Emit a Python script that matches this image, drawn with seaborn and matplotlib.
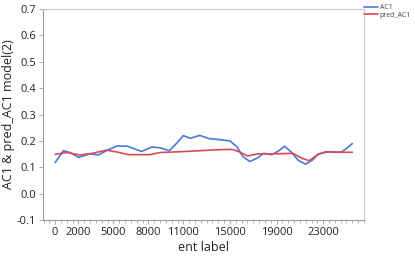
import numpy as np
import pandas as pd
import matplotlib
matplotlib.use("Agg")
import matplotlib.pyplot as plt
from matplotlib.ticker import MultipleLocator
import seaborn as sns

# values
ent_ac1 = [0, 700, 1300, 2000, 3000, 3700, 4400, 5300, 6200, 7400, 8300, 9000,
           9800, 10400, 11000, 11600, 12400, 13200, 14100, 15000, 15600, 16100,
           16700, 17300, 17900, 18600, 19200, 19700, 20300, 20900, 21500, 22100,
           22600, 23500, 24500, 25000, 25500]
ac1 = [0.118, 0.163, 0.156, 0.138, 0.151, 0.147, 0.163, 0.181, 0.180, 0.160,
       0.177, 0.174, 0.163, 0.190, 0.220, 0.210, 0.221, 0.209, 0.205, 0.200,
       0.178, 0.141, 0.122, 0.134, 0.153, 0.148, 0.163, 0.180, 0.156, 0.125,
       0.112, 0.128, 0.151, 0.159, 0.157, 0.171, 0.190]

ent_pred = [0, 1000, 2100, 3200, 4400, 5300, 6300, 8100, 9000, 10700, 12400,
            14100, 15200, 15800, 16500, 17400, 18700, 20400, 21200, 21800,
            22500, 23200, 24000, 25500]
pred_ac1 = [0.149, 0.156, 0.147, 0.153, 0.165, 0.158, 0.148, 0.148, 0.156,
            0.159, 0.163, 0.167, 0.168, 0.159, 0.143, 0.151, 0.151, 0.153,
            0.134, 0.125, 0.147, 0.159, 0.157, 0.157]

x_ticks = [0, 2000, 5000, 8000, 11000, 15000, 19000, 23000]
y_ticks = [-0.1, 0.0, 0.1, 0.2, 0.3, 0.4, 0.5, 0.6, 0.7]

blue = '#4a79dc'
red = '#dc4a52'

sns.set_style("ticks")
plt.rcParams['font.family'] = ['Open Sans', 'DejaVu Sans']

df1 = pd.DataFrame({'ent': ent_ac1, 'val': ac1})
df2 = pd.DataFrame({'ent': ent_pred, 'val': pred_ac1})

fig = plt.figure(figsize=(4.15, 2.58), dpi=100)
ax = fig.add_axes([0.104, 0.147, 0.773, 0.818])

sns.lineplot(data=df1, x='ent', y='val', color=blue, lw=1.2, label='AC1', ax=ax)
sns.lineplot(data=df2, x='ent', y='val', color=red, lw=1.2, label='pred_AC1', ax=ax)

ax.set_xticks(x_ticks)
ax.set_xticklabels([str(t) for t in x_ticks])
ax.xaxis.set_minor_locator(MultipleLocator(500))
ax.set_yticks(y_ticks)
ax.set_yticklabels(['%.1f' % t for t in y_ticks])
ax.set_xlim(-1030, 26500)
ax.set_ylim(-0.1, 0.7)
ax.tick_params(axis='both', labelsize=8, length=3, width=0.6, pad=2)
ax.tick_params(axis='x', which='minor', length=2, width=0.5, colors='#999999')
ax.tick_params(axis='x', which='major', colors='#999999', labelcolor='#222222')
ax.tick_params(axis='y', colors='#999999', labelcolor='#222222')
for s in ax.spines.values():
    s.set_color('#c8c8c8')
    s.set_linewidth(0.8)
ax.spines['left'].set_color('#999999')
ax.spines['bottom'].set_color('#999999')

ax.set_xlabel('ent label', fontsize=9, color='#222222', labelpad=2)
ax.set_ylabel('AC1 & pred_AC1 model(2)', fontsize=9, color='#222222')
ax.yaxis.set_label_coords(-0.088, 0.5)

leg = fig.legend(loc='upper left', bbox_to_anchor=(0.868, 1.0), frameon=False,
                 fontsize=5, handlelength=2.0, handletextpad=0.2,
                 labelspacing=0.1, borderaxespad=0.2)
ax.get_legend().remove()
for t in leg.get_texts():
    t.set_color('#444444')

fig.savefig('out.png', dpi=100)
